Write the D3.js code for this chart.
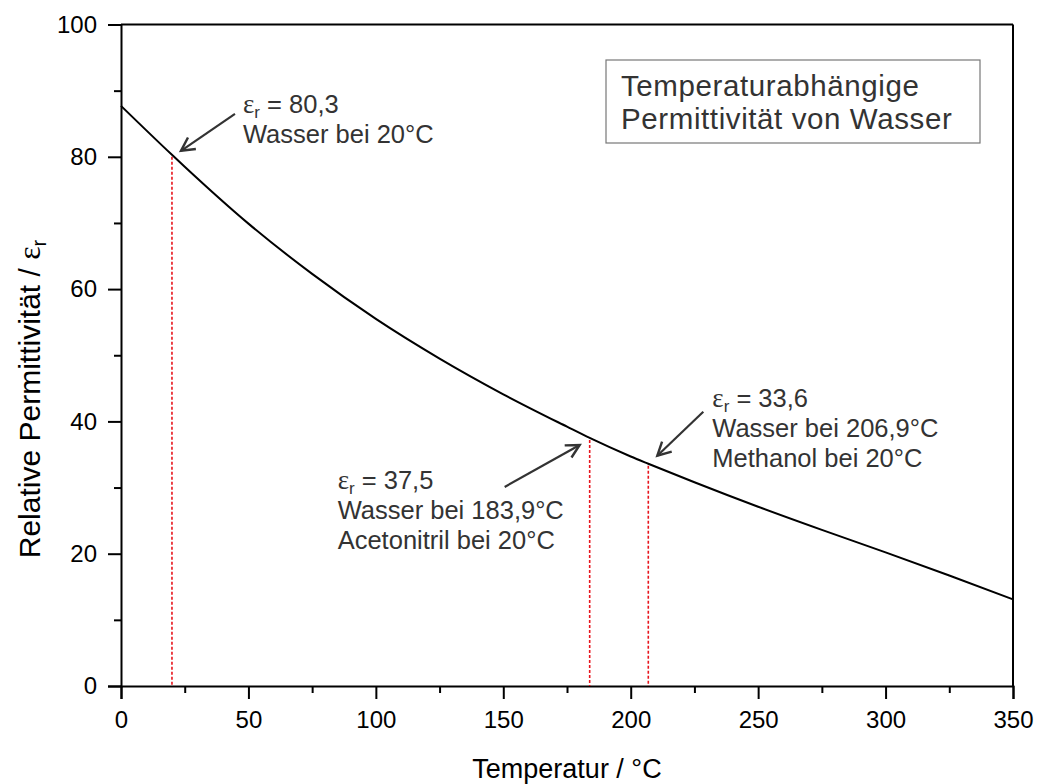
<!DOCTYPE html>
<html>
<head>
<meta charset="utf-8">
<script src="https://cdn.jsdelivr.net/npm/d3@7"></script>
<style>
  html, body { margin: 0; padding: 0; background: #fff; }
  svg { display: block; font-family: "Liberation Sans", Arial, sans-serif; }
</style>
</head>
<body>
<svg id="chart" width="1038" height="784"></svg>
<script>
// Temperature-dependent relative permittivity of water (saturated liquid)
const temperatures = [0, 20, 25, 50, 75, 100, 125, 150, 175, 183.9, 200, 206.9, 225, 250, 275, 300, 325, 350];
const permittivity = [87.7, 80.3, 78.5, 69.9, 62.3, 55.5, 49.5, 44.1, 39.2, 37.5, 34.7, 33.6, 30.8, 27.1, 23.6, 20.2, 16.7, 13.1];

const xTicks = [0, 50, 100, 150, 200, 250, 300, 350];
const xMinorTicks = [25, 75, 125, 175, 225, 275, 325];
const yTicks = [0, 20, 40, 60, 80, 100];
const yMinorTicks = [10, 30, 50, 70, 90];

// Marked points: temperature, permittivity, caption lines
const markTemps = [20, 183.9, 206.9];
const markValues = [80.3, 37.5, 33.6];
const markCaptions = [
  ["Wasser bei 20°C"],
  ["Wasser bei 183,9°C", "Acetonitril bei 20°C"],
  ["Wasser bei 206,9°C", "Methanol bei 20°C"]
];

const titleLines = ["Temperaturabhängige", "Permittivität von Wasser"];

// Annotation placement relative to the marked point (pixels)
const markLayout = [
  { tip: [9, -4], tail: [63, -41], text: [71, -42] },
  { tip: [-10, 7], tail: [-85, 49], text: [-252, 51] },
  { tip: [9, -8], tail: [55, -52], text: [64, -57] }
];

const svg = d3.select("#chart");
const x = d3.scaleLinear().domain([0, 350]).range([121, 1013]);
const y = d3.scaleLinear().domain([0, 100]).range([686, 24.5]);

const axisColor = "#000";
const sans = "'Liberation Sans', Arial, sans-serif";
const serif = "'Liberation Serif', 'Times New Roman', serif";

// Frame: top and right edges
svg.append("line").attr("x1", x(0)).attr("x2", x(350)).attr("y1", y(100)).attr("y2", y(100))
  .attr("stroke", axisColor).attr("stroke-width", 2);
svg.append("line").attr("x1", x(350)).attr("x2", x(350)).attr("y1", y(100)).attr("y2", y(0))
  .attr("stroke", axisColor).attr("stroke-width", 2);

// X axis
svg.append("g").attr("transform", `translate(0,${y(0)})`)
  .call(d3.axisBottom(x).tickValues(xTicks).tickSize(13).tickPadding(12).tickFormat(d3.format("d")));
svg.append("g").attr("transform", `translate(0,${y(0)})`)
  .call(d3.axisBottom(x).tickValues(xMinorTicks).tickSize(7).tickFormat(""))
  .call(g => g.select(".domain").remove());

// Y axis
svg.append("g").attr("transform", `translate(${x(0)},0)`)
  .call(d3.axisLeft(y).tickValues(yTicks).tickSize(13).tickPadding(11).tickFormat(d3.format("d")));
svg.append("g").attr("transform", `translate(${x(0)},0)`)
  .call(d3.axisLeft(y).tickValues(yMinorTicks).tickSize(7).tickFormat(""))
  .call(g => g.select(".domain").remove());

svg.selectAll(".domain").attr("stroke", axisColor).attr("stroke-width", 2);
svg.selectAll(".tick line").attr("stroke", axisColor).attr("stroke-width", 2);
svg.selectAll(".tick text").attr("fill", "#000").attr("font-size", 24).attr("font-family", sans);

// Axis titles
svg.append("text").attr("x", x(175)).attr("y", 778).attr("text-anchor", "middle")
  .attr("font-size", 27).attr("fill", "#000").text("Temperatur / °C");

const yTitle = svg.append("text")
  .attr("transform", `translate(40,399) rotate(-90)`)
  .attr("text-anchor", "middle").attr("font-size", 30).attr("fill", "#000");
yTitle.append("tspan").text("Relative Permittivität / ");
yTitle.append("tspan").attr("font-family", serif).attr("font-size", 32).text("ε");
yTitle.append("tspan").attr("dy", 6).attr("font-size", 20).text("r");

// Red dotted drop lines
svg.append("g").selectAll("line").data(markTemps).join("line")
  .attr("x1", d => x(d)).attr("x2", d => x(d))
  .attr("y1", (d, i) => y(markValues[i]) + 2).attr("y2", y(0))
  .attr("stroke", "#e8141c").attr("stroke-width", 1.6).attr("stroke-dasharray", "3,2");

// Curve
const line = d3.line().x(d => x(d[0])).y(d => y(d[1])).curve(d3.curveMonotoneX);
svg.append("path").datum(temperatures.map((t, i) => [t, permittivity[i]]))
  .attr("d", line).attr("fill", "none").attr("stroke", "#000").attr("stroke-width", 2);

// Annotations with arrows
const annColor = "#333";
const lineGap = 30;
markTemps.forEach((t, i) => {
  const px = x(t), py = y(markValues[i]);
  const L = markLayout[i];
  const tip = [px + L.tip[0], py + L.tip[1]];
  const tail = [px + L.tail[0], py + L.tail[1]];
  const g = svg.append("g");
  g.append("line").attr("x1", tail[0]).attr("y1", tail[1]).attr("x2", tip[0]).attr("y2", tip[1])
    .attr("stroke", annColor).attr("stroke-width", 2.2);
  const ang = Math.atan2(tip[1] - tail[1], tip[0] - tail[0]);
  const head = 15, spread = Math.PI / 6.5;
  const p1 = [tip[0] - head * Math.cos(ang - spread), tip[1] - head * Math.sin(ang - spread)];
  const p2 = [tip[0] - head * Math.cos(ang + spread), tip[1] - head * Math.sin(ang + spread)];
  g.append("path").attr("d", `M${p1}L${tip}L${p2}`).attr("fill", "none")
    .attr("stroke", annColor).attr("stroke-width", 2.4).attr("stroke-linejoin", "miter");

  const tx = px + L.text[0], ty = py + L.text[1];
  const t0 = g.append("text").attr("x", tx).attr("y", ty).attr("fill", annColor).attr("font-size", 25.5);
  t0.append("tspan").attr("font-family", serif).attr("font-size", 27).text("ε");
  t0.append("tspan").attr("dy", 5).attr("font-size", 17).text("r");
  t0.append("tspan").attr("dy", -5).text(" = " + d3.format(".1f")(markValues[i]).replace(".", ","));
  markCaptions[i].forEach((c, j) => {
    g.append("text").attr("x", tx).attr("y", ty + lineGap * (j + 1)).attr("fill", annColor)
      .attr("font-size", 25.5).text(c);
  });
});

// Title box
svg.append("rect").attr("x", 606).attr("y", 60).attr("width", 374).attr("height", 83)
  .attr("fill", "#fff").attr("stroke", "#777").attr("stroke-width", 1.2);
titleLines.forEach((s, i) => {
  svg.append("text").attr("x", 621).attr("y", 96 + 33 * i).attr("fill", "#333")
    .attr("font-size", 29.5).attr("letter-spacing", 0.6).text(s);
});
</script>
</body>
</html>
